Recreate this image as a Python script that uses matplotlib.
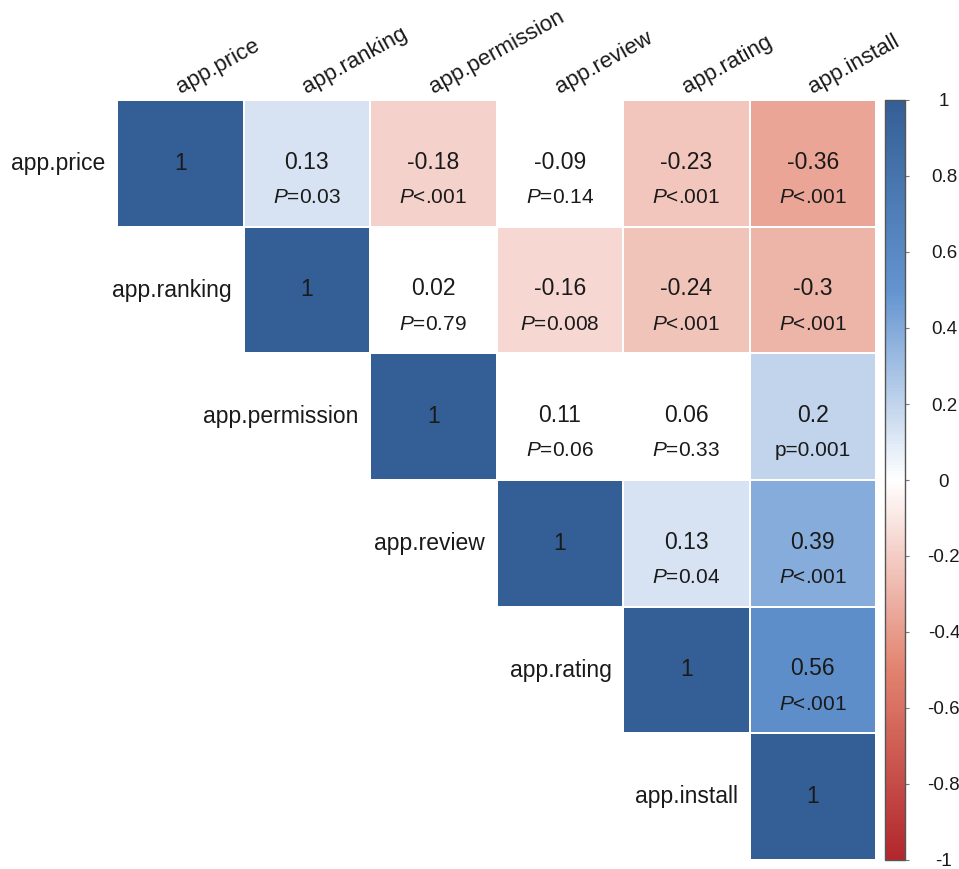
import numpy as np
import matplotlib
matplotlib.use("Agg")
import matplotlib.pyplot as plt
from matplotlib.colors import LinearSegmentedColormap

plt.rcParams['font.family'] = ['Liberation Sans', 'DejaVu Sans']
plt.rcParams['mathtext.fontset'] = 'custom'
plt.rcParams['mathtext.it'] = 'Liberation Sans:italic'
plt.rcParams['mathtext.rm'] = 'Liberation Sans'

variables = ['app.price', 'app.ranking', 'app.permission',
             'app.review', 'app.rating', 'app.install']

# upper triangle, row by row (diagonal included)
corr_rows = [
    [1, 0.13, -0.18, -0.09, -0.23, -0.36],
    [1, 0.02, -0.16, -0.24, -0.3],
    [1, 0.11, 0.06, 0.2],
    [1, 0.13, 0.39],
    [1, 0.56],
    [1],
]

# p-value labels for the off-diagonal cells, row by row
p_rows = [
    ['P=0.03', 'P<.001', 'P=0.14', 'P<.001', 'P<.001'],
    ['P=0.79', 'P=0.008', 'P<.001', 'P<.001'],
    ['P=0.06', 'P=0.33', 'p=0.001'],
    ['P=0.04', 'P<.001'],
    ['P<.001'],
    [],
]

cbar_ticks = [1, 0.8, 0.6, 0.4, 0.2, 0, -0.2, -0.4, -0.6, -0.8, -1]

ALPHA = 0.05


def is_significant(label):
    if '<' in label:
        return True
    return float(label.split('=')[1]) < ALPHA


def p_mathtext(label):
    # italic capital P, plain lower-case p
    if label.startswith('P'):
        return r'$\mathit{P}$' + label[1:]
    return label


n = len(variables)
corr = np.full((n, n), np.nan)
shown = np.zeros((n, n), dtype=bool)
for i, row in enumerate(corr_rows):
    for k, r in enumerate(row):
        j = i + k
        corr[i, j] = r
        if k == 0 or is_significant(p_rows[i][k - 1]):
            shown[i, j] = True

cmap = LinearSegmentedColormap.from_list(
    'corr', [(0.0, '#B2272D'), (0.25, '#E2836F'), (0.5, '#FFFFFF'),
             (0.75, '#6394D0'), (1.0, '#345F96')])

fig = plt.figure(figsize=(9.59, 8.69), dpi=100)
W, H = 959, 869
ax = fig.add_axes([117 / W, 1 - 860 / H, 759 / W, 760 / H])

data = np.ma.masked_where(~shown, corr)
mesh = ax.pcolormesh(np.arange(n + 1), np.arange(n + 1), data, cmap=cmap,
                     vmin=-1, vmax=1, edgecolors='white', linewidth=1.3)
ax.set_xlim(0, n)
ax.set_ylim(n, 0)
ax.axis('off')

txt_color = '#1a1a1a'
for i, row in enumerate(corr_rows):
    for k, r in enumerate(row):
        j = i + k
        if k == 0:
            ax.text(j + 0.5, i + 0.5, '1', ha='center', va='center',
                    fontsize=16.5, color=txt_color)
            continue
        ax.text(j + 0.5, i + 0.49, f'{r:g}', ha='center', va='center',
                fontsize=16.5, color=txt_color)
        ax.text(j + 0.5, i + 0.77, p_mathtext(p_rows[i][k - 1]),
                ha='center', va='center', fontsize=15, color=txt_color)

# row names sit left of the diagonal, column names run along the top
for i, name in enumerate(variables):
    ax.text(i - 0.09, i + 0.5, name, ha='right', va='center',
            fontsize=16.5, color=txt_color)
    ax.text(i + 0.5, -0.05, name, ha='left', va='baseline', rotation=29,
            rotation_mode='anchor', fontsize=16, color=txt_color,
            clip_on=False)

cax = fig.add_axes([885 / W, 1 - 860 / H, 20 / W, 760 / H])
cb = fig.colorbar(mesh, cax=cax, ticks=cbar_ticks)
cb.ax.set_yticklabels([f'{t:g}' for t in cbar_ticks])
cb.outline.set_edgecolor('#555555')
cb.outline.set_linewidth(1.0)
cb.ax.tick_params(length=3, width=0.8, color='#777777', pad=25,
                  labelsize=13.5, labelcolor=txt_color)
for lab in cb.ax.get_yticklabels():
    lab.set_ha('center')

fig.savefig('out.png', dpi=100)
